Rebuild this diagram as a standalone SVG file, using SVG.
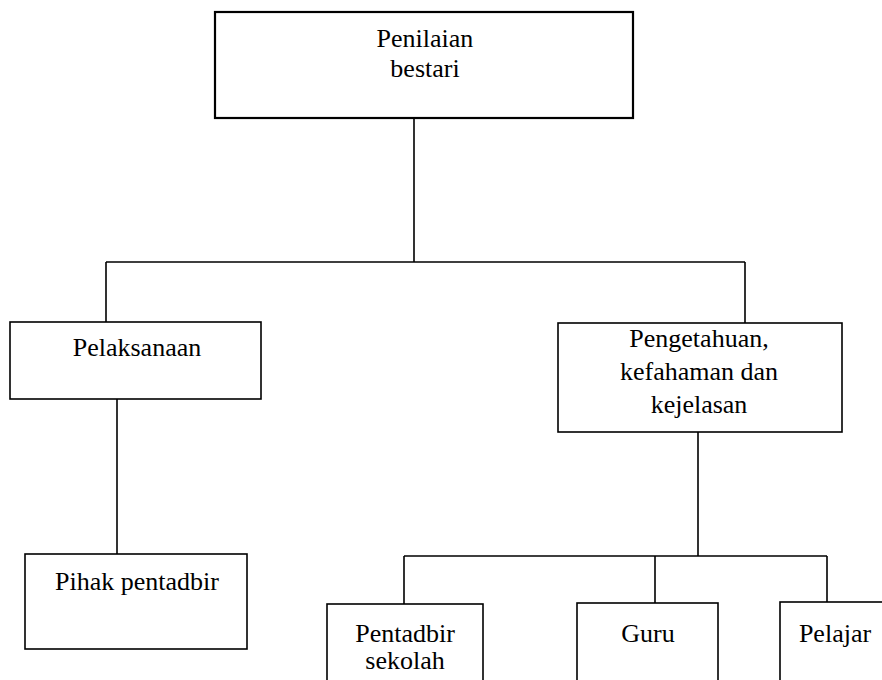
<svg xmlns="http://www.w3.org/2000/svg" width="882" height="680" viewBox="0 0 882 680">
<style>
.box{fill:#fff;stroke:#000;stroke-width:1.6}
.top{stroke-width:2.2}
text{font-family:'Liberation Serif','Times New Roman','DejaVu Serif',serif;font-size:26px;fill:#000;text-anchor:middle}
.c{fill:none;stroke:#000;stroke-width:1.6}
</style>
<rect width="882" height="680" fill="#fff"/>
<g id="connectors">
<path class="c" d="M414 118V262M106 262H745M106 262V322M745 262V323"/>
<path class="c" d="M117 399V554"/>
<path class="c" d="M698 432V556M404 556H827M404 556V604M655 556V603M827 556V602"/>
</g>
<g font-family="Liberation Serif, serif">
<g id="n-penilaian">
<rect class="box top" x="215" y="12" width="418" height="106"/>
<text x="425" y="47">Penilaian</text>
<text x="425" y="77">bestari</text>
</g>
<g id="n-pelaksanaan">
<rect class="box" x="10" y="322" width="251" height="77"/>
<text x="137" y="356">Pelaksanaan</text>
</g>
<g id="n-pengetahuan">
<rect class="box" x="558" y="323" width="284" height="109"/>
<text x="699" y="347">Pengetahuan,</text>
<text x="699" y="380">kefahaman dan</text>
<text x="699" y="413">kejelasan</text>
</g>
<g id="n-pihak">
<rect class="box" x="25" y="554" width="222" height="95"/>
<text x="137" y="590">Pihak pentadbir</text>
</g>
<g id="n-pentadbir">
<rect class="box" x="327" y="604" width="156" height="90"/>
<text x="405" y="642">Pentadbir</text>
<text x="405" y="669">sekolah</text>
</g>
<g id="n-guru">
<rect class="box" x="577" y="603" width="141" height="90"/>
<text x="648" y="642">Guru</text>
</g>
<g id="n-pelajar">
<rect class="box" x="780" y="602" width="120" height="90"/>
<text x="835" y="642">Pelajar</text>
</g>
</g>
</svg>
